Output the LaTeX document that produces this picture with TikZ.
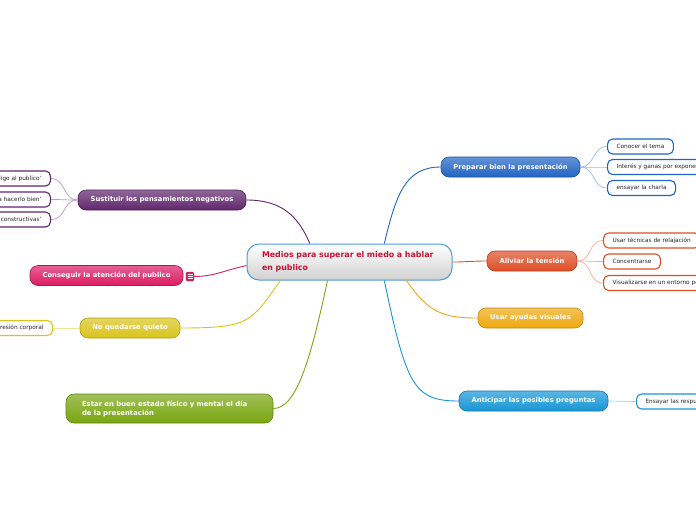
\documentclass[tikz,border=0pt]{standalone}
\usepackage{fontspec}
\setmainfont{DejaVu Sans}
\usetikzlibrary{calc}

% colours of the branches
\definecolor{prepblue}{RGB}{34,100,196}
\definecolor{tensred}{RGB}{222,78,38}
\definecolor{visgold}{RGB}{238,168,16}
\definecolor{pregblue}{RGB}{22,150,214}
\definecolor{sustpurple}{RGB}{96,38,108}
\definecolor{atenpink}{RGB}{220,28,100}
\definecolor{quietyellow}{RGB}{218,196,26}
\definecolor{estgreen}{RGB}{120,166,16}
\definecolor{topicborder}{RGB}{78,156,214}
\definecolor{topicred}{RGB}{200,18,52}

\tikzset{
    topic/.style={draw=topicborder, line width=1pt, rounded corners=12pt,
        top color=white, bottom color=black!18, minimum width=205pt,
        minimum height=36pt, text width=175pt, align=left,
        font=\fontsize{7.9}{12.5}\selectfont\bfseries, text=topicred},
    branch/.style={draw=#1!80!black, line width=0.6pt, rounded corners=8pt,
        top color=#1!70!white, bottom color=#1, minimum height=20pt,
        font=\fontsize{6.8}{8}\selectfont\bfseries, text=white},
    leaf/.style={draw=#1, line width=1.1pt, fill=white, rounded corners=5pt,
        minimum height=15pt, inner xsep=9pt, font=\fontsize{5.8}{7}\selectfont,
        text=black!85},
    link/.style={draw=#1, line width=0.9pt},
    twig/.style={draw=#1!45, line width=0.7pt}
}

\begin{document}
\begin{tikzpicture}[x=1pt, y=-1pt]
    \useasboundingbox (0,0) rectangle (696,520);

    % Central topic
    \node[topic, inner ysep=2pt] (topic) at (349.5,262) {Medios para superar el miedo a hablar\\en publico};

    % Main branches
    \node[branch=prepblue, minimum width=139pt] (prep) at (510.5,167) {Preparar bien la presentación};
    \node[branch=tensred, minimum width=90pt] (tens) at (532,261) {Aliviar la tensión};
    \node[branch=visgold, minimum width=105pt] (vis) at (530.5,318) {Usar ayudas visuales};
    \node[branch=pregblue, minimum width=149pt] (preg) at (533.5,401) {Anticipar las posibles preguntas};
    \node[branch=sustpurple, minimum width=168pt] (sust) at (162,200) {Sustituir los pensamientos negativos};
    \node[branch=atenpink, minimum width=153pt] (aten) at (106.5,275.5) {Conseguir la atención del publico};
    \node[branch=quietyellow, minimum width=100pt] (quiet) at (130,328) {No quedarse quieto};
    \node[branch=estgreen, minimum width=207pt, minimum height=29pt, text width=175pt, align=left,
        font=\fontsize{6.9}{9}\selectfont\bfseries] (est) at (169.5,408.5)
        {Estar en buen estado físico y mental el día\\de la presentación};

    % Note icon beside the pink branch
    \node[draw=atenpink!80!black, fill=atenpink, rounded corners=1.5pt, minimum width=8pt,
        minimum height=9pt, inner sep=0pt] (note) at (190,276.5) {};
    \foreach \dy in {-2,0,2}
        \draw[white, line width=0.6pt] ($(note.center)+(-2.5,\dy)$) -- ++(5,0);

    % Links from the topic to the branches
    \draw[link=prepblue] (topic.28) .. controls +(12,-50) and +(-35,0) .. (prep.west);
    \draw[link=tensred] (topic.east) .. controls +(15,0) and +(-15,0) .. (tens.west);
    \draw[link=visgold] (topic.-18) .. controls +(22,32) and +(-35,0) .. (vis.west);
    \draw[link=pregblue] (topic.-28) .. controls +(22,105) and +(-45,0) .. (preg.west);
    \draw[link=sustpurple] (topic.155.5) .. controls +(-12,-28) and +(35,0) .. (sust.east);
    \draw[link=atenpink] (topic.182) .. controls +(-20,4) and +(20,0) .. (note.east);
    \draw[link=quietyellow] (topic.-165) .. controls +(-30,42) and +(70,0) .. (quiet.east);
    \draw[link=estgreen] (topic.-140) .. controls +(-18,85) and +(22,0) .. (est.east);

    % Leaves of "Preparar bien la presentación"
    \node[leaf=prepblue, anchor=west] (tema) at (607,146.5) {Conocer el tema};
    \node[leaf=prepblue, anchor=west] (ganas) at (607,167) {Interés y ganas por exponer};
    \node[leaf=prepblue, anchor=west] (charla) at (607,188) {ensayar la charla};
    \foreach \l in {tema,ganas,charla}
        \draw[twig=prepblue] (prep.east) .. controls +(15,0) and +(-15,0) .. (\l.west);

    % Leaves of "Aliviar la tensión"
    \node[leaf=tensred, anchor=west] (relax) at (603,240.5) {Usar técnicas de relajación};
    \node[leaf=tensred, anchor=west] (conc) at (603,261.5) {Concentrarse};
    \node[leaf=tensred, anchor=west] (visu) at (603,283) {Visualizarse en un entorno positivo};
    \foreach \l in {relax,conc,visu}
        \draw[twig=tensred] (tens.east) .. controls +(15,0) and +(-15,0) .. (\l.west);

    % Leaf of "Anticipar las posibles preguntas"
    \node[leaf=pregblue, anchor=west] (resp) at (636,401.5) {Ensayar las respuestas};
    \draw[twig=pregblue] (preg.east) -- (resp.west);

    % Leaves of "Sustituir los pensamientos negativos"
    \node[leaf=sustpurple, anchor=east] (digo) at (51,178.5) {'Lo que digo al publico'};
    \node[leaf=sustpurple, anchor=east] (bien) at (51,199.5) {'Voy a hacerlo bien'};
    \node[leaf=sustpurple, anchor=east] (crit) at (51,219.5) {'Las críticas son constructivas'};
    \foreach \l in {digo,bien,crit}
        \draw[twig=sustpurple] (sust.west) .. controls +(-15,0) and +(15,0) .. (\l.east);

    % Leaf of "No quedarse quieto"
    \node[leaf=quietyellow, anchor=east] (expr) at (53,328) {Expresión corporal};
    \draw[twig=quietyellow] (quiet.west) -- (expr.east);
\end{tikzpicture}
\end{document}
